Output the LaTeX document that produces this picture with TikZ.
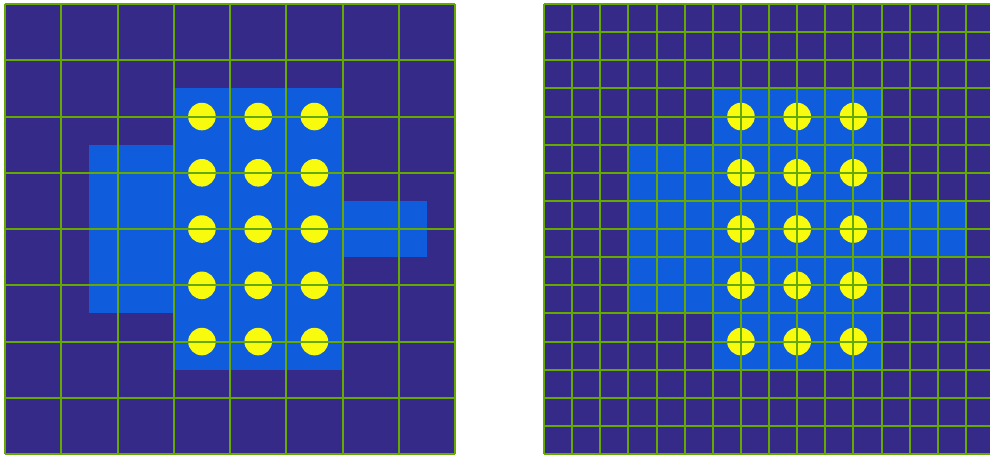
\documentclass[tikz,border=0pt]{standalone}
\usetikzlibrary{positioning}

\definecolor{bgnavy}{RGB}{53,42,135}
\definecolor{padblue}{RGB}{15,92,221}
\definecolor{viayellow}{RGB}{249,251,14}
\definecolor{meshgreen}{RGB}{102,170,0}

\tikzset{
  board/.style={fill=bgnavy},
  pad/.style={fill=padblue},
  via/.style={fill=viayellow},
  mesh/.style={draw=meshgreen, line width=1.42pt},
}

\begin{document}
\begin{tikzpicture}[x=0.025cm, y=-0.025cm]
  \useasboundingbox (0,0) rectangle (990,455);
  \clip (0,0) rectangle (990,455);

  % Two panels: coarse mesh (8x8) and fine mesh (16x16)
  \foreach \ox/\n/\s in {5/8/1, 544/16/0.5} {
    \begin{scope}[shift={(\ox,4)}, x=1.40625cm, y=-1.40625cm]
      % Background
      \fill[board] (0,0) rectangle (8,8);

      % Copper pads
      \fill[pad] (3,1.5) rectangle (6,6.5);
      \fill[pad] (1.5,2.5) rectangle (3,5.5);
      \fill[pad] (6,3.5) rectangle (7.5,4.5);

      % Vias
      \foreach \i in {3.5,4.5,5.5}
        \foreach \j in {2,...,6}
          \fill[via] (\i,\j) circle [radius=0.245];

      % Mesh lines
      \foreach \k in {0,...,\n} {
        \draw[mesh] (\k*\s,0) -- (\k*\s,8);
        \draw[mesh] (0,\k*\s) -- (8,\k*\s);
      }
    \end{scope}
  }
\end{tikzpicture}
\end{document}
